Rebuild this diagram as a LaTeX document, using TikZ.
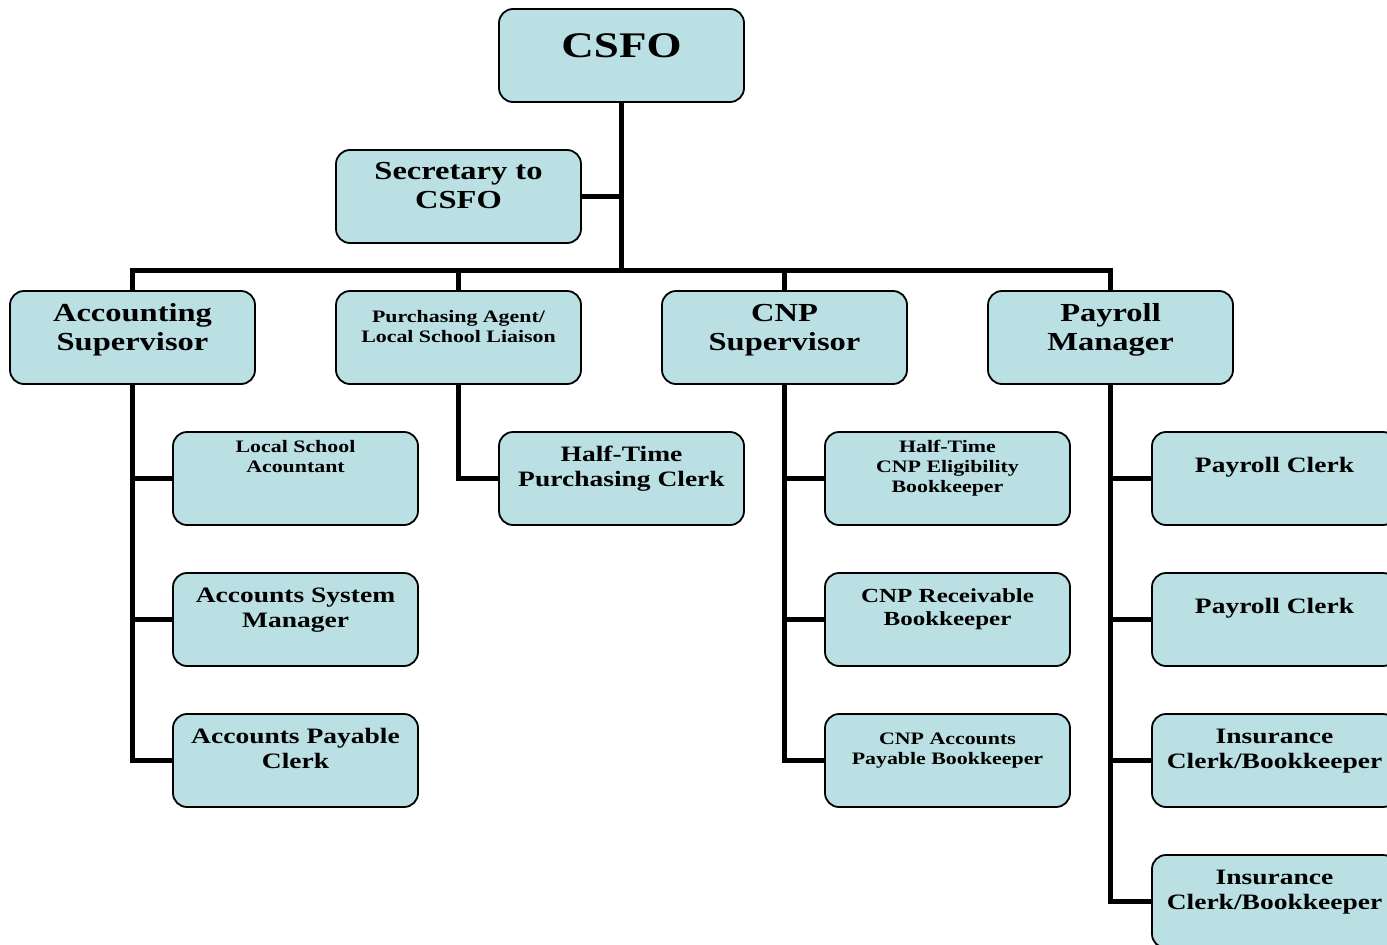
\documentclass[tikz,border=0pt]{standalone}
\usepackage{fontspec}
\setmainfont{Liberation Serif}[FakeStretch=1.25]
\definecolor{boxfill}{RGB}{187,224,228}

\tikzstyle{post} = [draw, line width=1.8pt, rounded corners=14pt, fill=boxfill, minimum width=245pt, minimum height=93pt, inner sep=0pt]
\tikzstyle{link} = [line width=5pt]
\tikzstyle{bigtxt} = [anchor=base, align=center, inner sep=0pt, font=\fontsize{26}{29}\selectfont\bfseries]
\tikzstyle{midtxt} = [anchor=base, align=center, inner sep=0pt, font=\fontsize{22}{25}\selectfont\bfseries]
\tikzstyle{smalltxt} = [anchor=base, align=center, inner sep=0pt, font=\fontsize{17.5}{20}\selectfont\bfseries]

\begin{document}
\begin{tikzpicture}[x=1pt,y=-1pt]
			\useasboundingbox (0,0) rectangle (1387,945);
			% boxes
			\node[post] (csfo) at (621.5,55.5) {};
			\node[post] (sec) at (458.5,196.5) {};
			\node[post] (acc) at (132.5,337.5) {};
			\node[post] (pur) at (458.5,337.5) {};
			\node[post] (cnp) at (784.5,337.5) {};
			\node[post] (pay) at (1110.5,337.5) {};
			\node[post] (acc1) at (295.5,478.5) {};
			\node[post] (acc2) at (295.5,619.5) {};
			\node[post] (acc3) at (295.5,760.5) {};
			\node[post] (pur1) at (621.5,478.5) {};
			\node[post] (cnp1) at (947.5,478.5) {};
			\node[post] (cnp2) at (947.5,619.5) {};
			\node[post] (cnp3) at (947.5,760.5) {};
			\node[post] (pay1) at (1274.5,478.5) {};
			\node[post] (pay2) at (1274.5,619.5) {};
			\node[post] (pay3) at (1274.5,760.5) {};
			\node[post] (pay4) at (1274.5,901.5) {};
			% texts (base = last line)
			\node[anchor=base, inner sep=0pt, font=\fontsize{36}{40}\selectfont\bfseries] (csfo-t) at ([yshift=-49pt]csfo.north) {CSFO};
			\node[bigtxt] (sec-t) at ([yshift=-59pt]sec.north) {Secretary to\\CSFO};
			\node[bigtxt] (acc-t) at ([yshift=-60pt]acc.north) {Accounting\\Supervisor};
			\node[smalltxt] (pur-t) at ([yshift=-52pt]pur.north) {Purchasing Agent/\\Local School Liaison};
			\node[bigtxt] (cnp-t) at ([yshift=-60pt]cnp.north) {CNP\\Supervisor};
			\node[bigtxt] (pay-t) at ([yshift=-60pt]pay.north) {Payroll\\Manager};
			\node[smalltxt] (acc1-t) at ([yshift=-41pt]acc1.north) {Local School\\Acountant};
			\node[midtxt] (acc2-t) at ([yshift=-55pt]acc2.north) {Accounts System\\Manager};
			\node[midtxt] (acc3-t) at ([yshift=-55pt]acc3.north) {Accounts Payable\\Clerk};
			\node[midtxt] (pur1-t) at ([yshift=-55pt]pur1.north) {Half-Time\\Purchasing Clerk};
			\node[smalltxt] (cnp1-t) at ([yshift=-61pt]cnp1.north) {Half-Time\\CNP Eligibility\\Bookkeeper};
			\node[midtxt, font=\fontsize{20}{23}\selectfont\bfseries] (cnp2-t) at ([yshift=-53pt]cnp2.north) {CNP Receivable\\Bookkeeper};
			\node[smalltxt] (cnp3-t) at ([yshift=-51pt]cnp3.north) {CNP Accounts\\Payable Bookkeeper};
			\node[midtxt] (pay1-t) at ([yshift=-41pt]pay1.north) {Payroll Clerk};
			\node[midtxt] (pay2-t) at ([yshift=-41pt]pay2.north) {Payroll Clerk};
			\node[midtxt] (pay3-t) at ([yshift=-55pt]pay3.north) {Insurance\\Clerk/Bookkeeper};
			\node[midtxt] (pay4-t) at ([yshift=-55pt]pay4.north) {Insurance\\Clerk/Bookkeeper};
			% connectors
			\coordinate (bus) at (621.5,270);
			\draw[link] (csfo.south) -- (bus);
			\draw[link] (sec.east) -- (sec.east -| csfo.south);
			\draw[link] (acc.north) |- (bus) -| (pay.north);
			\draw[link] (pur.north) -- (pur.north |- bus);
			\draw[link] (cnp.north) -- (cnp.north |- bus);
			\draw[link] (acc.south) |- (acc3.west);
			\draw[link] (acc.south |- acc1.west) -- (acc1.west);
			\draw[link] (acc.south |- acc2.west) -- (acc2.west);
			\draw[link] (pur.south) |- (pur1.west);
			\draw[link] (cnp.south) |- (cnp3.west);
			\draw[link] (cnp.south |- cnp1.west) -- (cnp1.west);
			\draw[link] (cnp.south |- cnp2.west) -- (cnp2.west);
			\draw[link] (pay.south) |- (pay4.west);
			\draw[link] (pay.south |- pay1.west) -- (pay1.west);
			\draw[link] (pay.south |- pay2.west) -- (pay2.west);
			\draw[link] (pay.south |- pay3.west) -- (pay3.west);
		\end{tikzpicture}
\end{document}
